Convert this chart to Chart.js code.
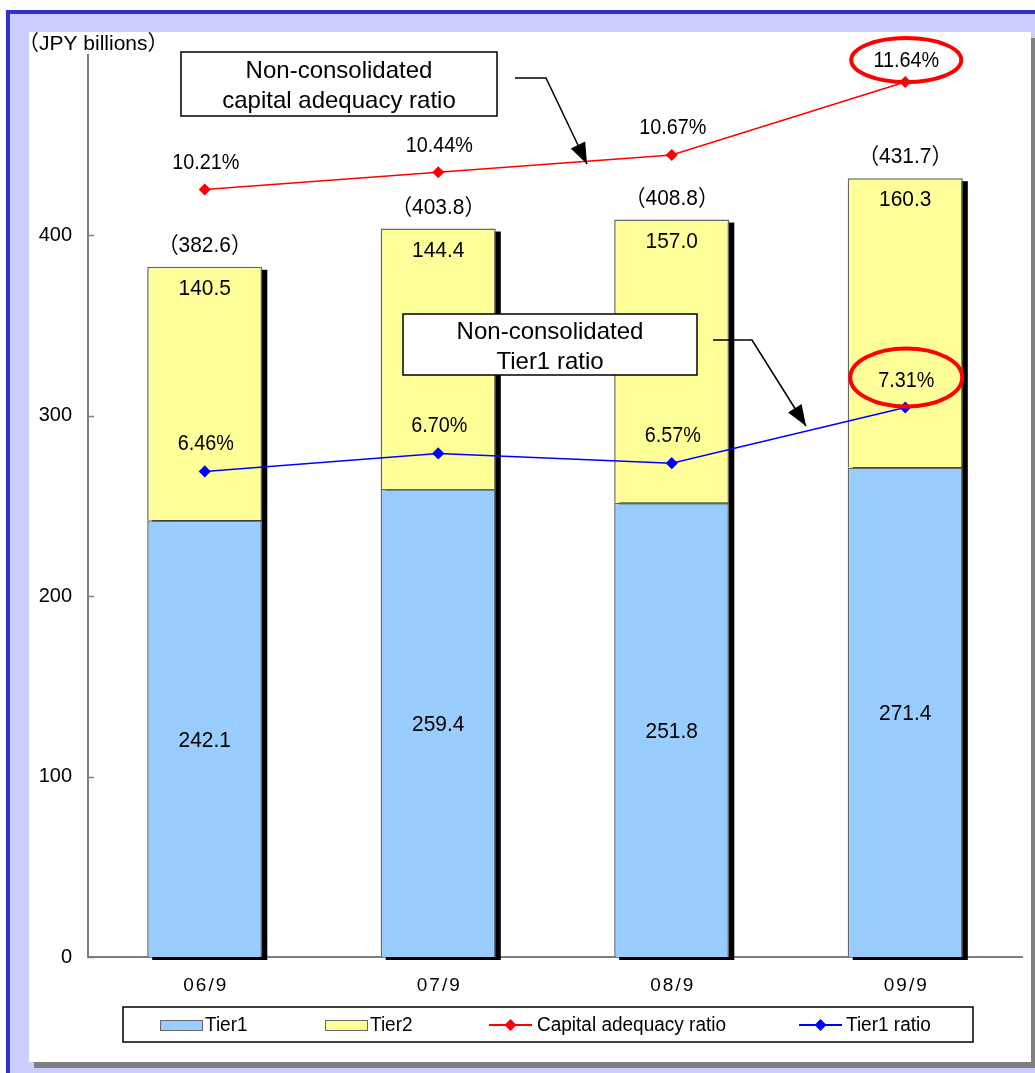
<!DOCTYPE html>
<html>
<head>
<meta charset="utf-8">
<script src="https://cdn.jsdelivr.net/npm/chart.js@4/dist/chart.umd.min.js"></script>
<style>
  html, body { margin: 0; padding: 0; background: #ffffff; }
  #wrap { position: relative; width: 1035px; height: 1073px; }
  canvas { display: block; }
</style>
</head>
<body>
<div id="wrap"><canvas id="capitalChart" width="1035" height="1073"></canvas></div>
<script>
// Capital base (JPY billions) and ratios, half-year ends
const categories   = ['06/9', '07/9', '08/9', '09/9'];
const tier1        = [242.1, 259.4, 251.8, 271.4];
const tier2        = [140.5, 144.4, 157.0, 160.3];
const totals       = [382.6, 403.8, 408.8, 431.7];
const capitalRatio = [10.21, 10.44, 10.67, 11.64];
const tier1Ratio   = [6.46, 6.70, 6.57, 7.31];
const yTickValues  = [0, 100, 200, 300, 400];

const FONT = '"Liberation Sans", Arial, "Noto Sans CJK JP", sans-serif';
const COLORS = {
  tier1: '#99ccff',
  tier2: '#ffff99',
  capital: '#ff0000',
  tier1Ratio: '#0000ff',
  barBorder: '#666666',
  axis: '#7f7f7f',
  frameBlue: '#3333cc',
  frameFill: '#ccccff',
  shadow: '#808080'
};

// Draws a text run, optionally squeezed horizontally
function txt(ctx, s, x, y, size, sx = 1, align = 'center') {
  ctx.save();
  ctx.font = size + 'px ' + FONT;
  ctx.translate(x, y);
  ctx.scale(sx, 1);
  ctx.textAlign = align;
  ctx.textBaseline = 'middle';
  ctx.fillStyle = '#000000';
  ctx.fillText(s, 0, 0);
  ctx.restore();
}

// Page frame: blue rule, lavender band, white panel with a drop shadow
const framePlugin = {
  id: 'frame',
  beforeDraw(chart) {
    const ctx = chart.ctx;
    ctx.save();
    ctx.fillStyle = '#ffffff';
    ctx.fillRect(0, 0, chart.width, chart.height);
    ctx.fillStyle = COLORS.frameFill;
    ctx.fillRect(6, 10, chart.width - 6, chart.height - 10);
    ctx.fillStyle = COLORS.frameBlue;
    ctx.fillRect(6, 10, chart.width - 6, 4);
    ctx.fillRect(6, 10, 4, chart.height - 10);
    ctx.fillStyle = COLORS.shadow;
    ctx.fillRect(34, 1062, chart.width - 34, 6);
    ctx.fillRect(1031, 38, 4, 1030);
    ctx.fillStyle = '#ffffff';
    ctx.fillRect(29, 32, 1002, 1030);
    ctx.restore();
  }
};

// Black drop shadow behind each stacked column
const barShadowPlugin = {
  id: 'barShadow',
  beforeDatasetsDraw(chart) {
    const ctx = chart.ctx;
    const m0 = chart.getDatasetMeta(0);
    const m1 = chart.getDatasetMeta(1);
    ctx.save();
    ctx.fillStyle = '#000000';
    m1.data.forEach((top, i) => {
      const base = m0.data[i].base;
      const w = top.width;
      ctx.fillRect(top.x - w / 2 + 5, top.y + 3, w, base - top.y);
    });
    ctx.restore();
  }
};

// Inward tick marks on the value axis and the category labels
const axisDecorPlugin = {
  id: 'axisDecor',
  afterDraw(chart) {
    const y = chart.scales.y;
    const x = chart.scales.x;
    const ctx = chart.ctx;
    ctx.save();
    ctx.strokeStyle = COLORS.axis;
    ctx.lineWidth = 1.5;
    yTickValues.forEach(v => {
      const py = Math.round(y.getPixelForValue(v)) + 0.5;
      ctx.beginPath();
      ctx.moveTo(y.right, py);
      ctx.lineTo(y.right + 6, py);
      ctx.stroke();
    });
    ctx.font = '19px ' + FONT;
    ctx.letterSpacing = '2px';
    ctx.fillStyle = '#000000';
    ctx.textAlign = 'center';
    ctx.textBaseline = 'middle';
    categories.forEach((c, i) => {
      ctx.fillText(c, x.getPixelForValue(i) + 1, x.top + 29);
    });
    ctx.restore();
  }
};

function drawArrow(ctx, pts) {
  ctx.beginPath();
  ctx.moveTo(pts[0][0], pts[0][1]);
  for (let i = 1; i < pts.length; i++) ctx.lineTo(pts[i][0], pts[i][1]);
  ctx.stroke();
  const [x1, y1] = pts[pts.length - 2];
  const [x2, y2] = pts[pts.length - 1];
  const a = Math.atan2(y2 - y1, x2 - x1);
  const len = 21, half = 8;
  ctx.beginPath();
  ctx.moveTo(x2, y2);
  ctx.lineTo(x2 - len * Math.cos(a) + half * Math.sin(a), y2 - len * Math.sin(a) - half * Math.cos(a));
  ctx.lineTo(x2 - len * Math.cos(a) - half * Math.sin(a), y2 - len * Math.sin(a) + half * Math.cos(a));
  ctx.closePath();
  ctx.fill();
}

function calloutBox(ctx, x, y, w, h, lines) {
  ctx.fillStyle = '#ffffff';
  ctx.fillRect(x, y, w, h);
  ctx.strokeStyle = '#000000';
  ctx.lineWidth = 1.5;
  ctx.strokeRect(x, y, w, h);
  lines.forEach((t, i) =>
    txt(ctx, t, x + w / 2, y + h / 2 + 2.5 + (i - (lines.length - 1) / 2) * 30, 24));
}

// Value labels, ratio labels, highlight rings, callouts and the legend
const labelsPlugin = {
  id: 'labels',
  afterDatasetsDraw(chart) {
    const ctx = chart.ctx;
    const m0 = chart.getDatasetMeta(0);
    const m1 = chart.getDatasetMeta(1);
    const m2 = chart.getDatasetMeta(2);
    const m3 = chart.getDatasetMeta(3);
    ctx.save();
    m0.data.forEach((el, i) => {
      txt(ctx, tier1[i].toFixed(1), el.x, (el.y + el.base) / 2 + 2, 22, 0.95);
    });
    m1.data.forEach((el, i) => {
      txt(ctx, tier2[i].toFixed(1), el.x, el.y + 22, 22, 0.95);
      txt(ctx, '（' + totals[i].toFixed(1) + '）', el.x, el.y - 21, 22, 0.95);
    });
    const capLift = [27, 26, 27, 21];
    m2.data.forEach((pt, i) => {
      txt(ctx, capitalRatio[i].toFixed(2) + '%', pt.x + 1, pt.y - capLift[i], 22, 0.9);
    });
    m3.data.forEach((pt, i) => {
      txt(ctx, tier1Ratio[i].toFixed(2) + '%', pt.x + 1, pt.y - 27, 22, 0.9);
    });

    // highlight rings around the latest ratios
    ctx.strokeStyle = '#ff0000';
    ctx.lineWidth = 4;
    const pc = m2.data[3];
    ctx.beginPath();
    ctx.ellipse(pc.x + 1, pc.y - 22, 55, 22, 0, 0, Math.PI * 2);
    ctx.stroke();
    const pt1 = m3.data[3];
    ctx.beginPath();
    ctx.ellipse(pt1.x + 1, pt1.y - 30, 56, 29, 0, 0, Math.PI * 2);
    ctx.stroke();

    // callouts
    calloutBox(ctx, 181, 52, 316, 64, ['Non-consolidated', 'capital adequacy ratio']);
    calloutBox(ctx, 403, 314, 294, 61, ['Non-consolidated', 'Tier1 ratio']);
    ctx.strokeStyle = '#000000';
    ctx.fillStyle = '#000000';
    ctx.lineWidth = 1.5;
    drawArrow(ctx, [[515, 78], [546, 78], [587, 164]]);
    drawArrow(ctx, [[713, 340], [752, 340], [806, 426]]);

    // unit caption
    txt(ctx, '（JPY billions）', 18, 44, 21, 1, 'left');

    // legend
    ctx.lineWidth = 1.5;
    ctx.strokeStyle = '#000000';
    ctx.strokeRect(123, 1007, 850, 35);
    const ly = 1025;
    const swatch = (x, fill) => {
      ctx.fillStyle = fill;
      ctx.fillRect(x, ly - 5, 42, 10);
      ctx.strokeStyle = '#666666';
      ctx.lineWidth = 1;
      ctx.strokeRect(x + 0.5, ly - 5 + 0.5, 42, 10);
    };
    const lineKey = (x, color) => {
      ctx.strokeStyle = color;
      ctx.fillStyle = color;
      ctx.lineWidth = 2;
      ctx.beginPath();
      ctx.moveTo(x, ly);
      ctx.lineTo(x + 43, ly);
      ctx.stroke();
      ctx.beginPath();
      ctx.moveTo(x + 21.5, ly - 6);
      ctx.lineTo(x + 27.5, ly);
      ctx.lineTo(x + 21.5, ly + 6);
      ctx.lineTo(x + 15.5, ly);
      ctx.closePath();
      ctx.fill();
    };
    const ds = chart.data.datasets;
    swatch(160, COLORS.tier1);
    txt(ctx, ds[0].label, 205, ly, 20, 0.95, 'left');
    swatch(325, COLORS.tier2);
    txt(ctx, ds[1].label, 370, ly, 20, 0.95, 'left');
    lineKey(489, COLORS.capital);
    txt(ctx, ds[2].label, 537, ly, 20, 0.95, 'left');
    lineKey(799, COLORS.tier1Ratio);
    txt(ctx, ds[3].label, 846, ly, 20, 0.95, 'left');
    ctx.restore();
  }
};

new Chart(document.getElementById('capitalChart'), {
  data: {
    labels: categories,
    datasets: [
      {
        type: 'bar', label: 'Tier1', data: tier1, yAxisID: 'y', stack: 'capital',
        backgroundColor: COLORS.tier1, borderColor: COLORS.barBorder, borderWidth: 1.5,
        barPercentage: 0.493, categoryPercentage: 1, order: 2
      },
      {
        type: 'bar', label: 'Tier2', data: tier2, yAxisID: 'y', stack: 'capital',
        backgroundColor: COLORS.tier2, borderColor: COLORS.barBorder, borderWidth: 1.5,
        barPercentage: 0.493, categoryPercentage: 1, order: 2
      },
      {
        type: 'line', label: 'Capital adequacy ratio', data: capitalRatio, yAxisID: 'y1',
        borderColor: COLORS.capital, backgroundColor: COLORS.capital, borderWidth: 1.5,
        pointStyle: 'rectRot', pointRadius: 5, pointHoverRadius: 5, tension: 0, order: 1
      },
      {
        type: 'line', label: 'Tier1 ratio', data: tier1Ratio, yAxisID: 'y1',
        borderColor: COLORS.tier1Ratio, backgroundColor: COLORS.tier1Ratio, borderWidth: 1.5,
        pointStyle: 'rectRot', pointRadius: 5, pointHoverRadius: 5, tension: 0, order: 1
      }
    ]
  },
  options: {
    responsive: false,
    animation: false,
    devicePixelRatio: 1,
    layout: { padding: { top: 55, right: 13, bottom: 0, left: 0 } },
    plugins: { legend: { display: false }, tooltip: { enabled: false } },
    scales: {
      x: {
        stacked: true,
        grid: { display: false, drawTicks: false },
        border: { color: COLORS.axis, width: 2 },
        ticks: { display: false },
        afterFit(s) { s.height = 116; }
      },
      y: {
        stacked: true, min: 0, max: 500,
        afterBuildTicks(s) { s.ticks = yTickValues.concat([500]).map(v => ({ value: v })); },
        ticks: {
          color: '#000', font: { family: FONT, size: 20 }, padding: 16,
          callback: v => (yTickValues.includes(v) ? String(v) : '')
        },
        grid: { display: false, drawTicks: false },
        border: { color: COLORS.axis, width: 2 },
        afterFit(s) { s.width = 88; }
      },
      y1: { display: false, min: 0, max: 12, position: 'right' }
    }
  },
  plugins: [framePlugin, barShadowPlugin, axisDecorPlugin, labelsPlugin]
});
</script>
</body>
</html>
